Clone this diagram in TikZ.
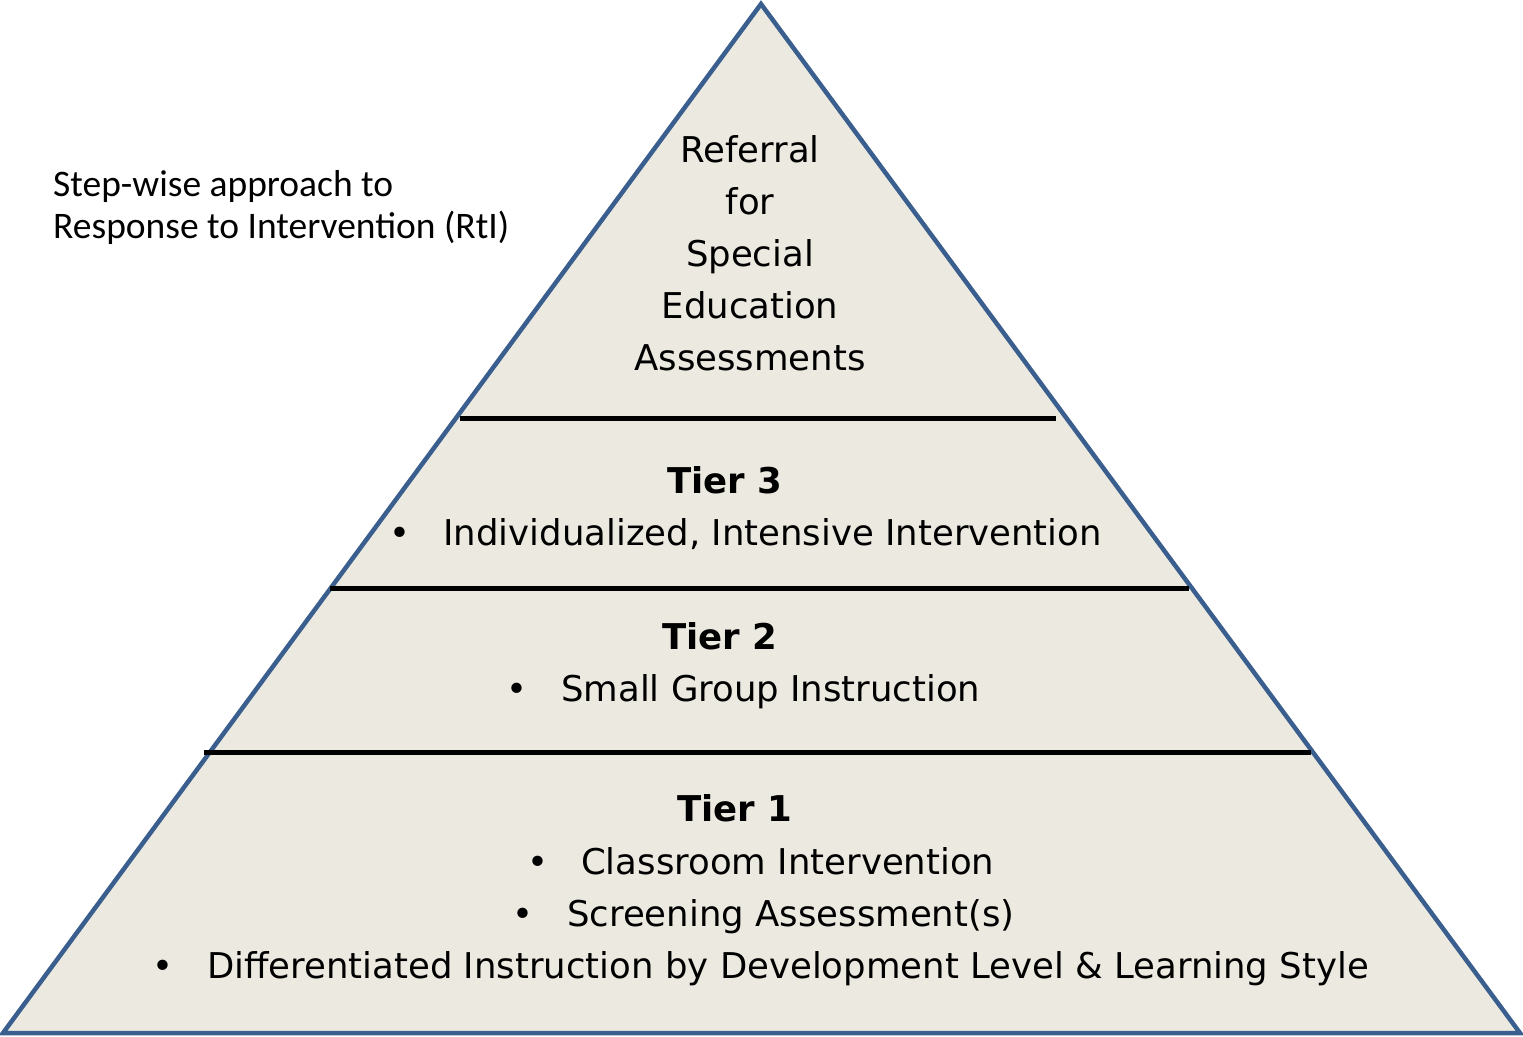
\documentclass[tikz,border=0pt]{standalone}
\usepackage{fontspec}
\setmainfont{DejaVu Sans}
\newfontfamily\titlefont{Carlito}
\definecolor{pyrfill}{HTML}{ECEAE0}
\definecolor{pyredge}{HTML}{3A5F8E}
\tikzset{
  tierline/.style={line width=5pt, black},
  body/.style={font=\fontsize{35.5}{42}\selectfont, inner sep=0pt, anchor=base west},
  head/.style={font=\fontsize{35.5}{42}\selectfont\bfseries, inner sep=0pt, anchor=base},
  bul/.style={font=\fontsize{35.5}{42}\selectfont, inner sep=0pt, anchor=base},
}
\begin{document}
\begin{tikzpicture}[x=1pt,y=-1pt]
\useasboundingbox (0,0) rectangle (1523,1036);
% pyramid
\coordinate (apex) at (761,4);
\coordinate (bl) at (3,1033);
\coordinate (br) at (1520,1033);
\draw[pyredge, fill=pyrfill, line width=4.5pt, line join=miter] (apex) -- (br) -- (bl) -- cycle;
% tier lines
\coordinate (l3a) at (460,418); \coordinate (l3b) at (1056,418);
\coordinate (l2a) at (330,588); \coordinate (l2b) at (1189,588);
\coordinate (l1a) at (204,752); \coordinate (l1b) at (1311,752);
\draw[tierline] (l3a) -- (l3b);
\draw[tierline] (l2a) -- (l2b);
\draw[tierline] (l1a) -- (l1b);
% title
\node[font=\titlefont\fontsize{37.5}{42}\selectfont, align=left, anchor=base west, inner sep=0pt] (title) at (53,238)
  {Step-wise approach to\\Response to Intervention (RtI)};
% top
\node[font=\fontsize{35.5}{52}\selectfont, align=center, anchor=base, inner sep=0pt] (top) at (750,370)
  {Referral\\for\\Special\\Education\\Assessments};
% tier 3
\node[head] (t3) at (725,493) {Tier 3};
\node[bul] (b3) at (400,545) {•};
\node[body] (t3a) at (443,545) {Individualized, Intensive Intervention};
% tier 2
\node[head] (t2) at (720,649) {Tier 2};
\node[bul] (b2) at (517,701) {•};
\node[body] (t2a) at (561,701) {Small Group Instruction};
% tier 1
\node[head] (t1) at (735,821) {Tier 1};
\node[bul] (b1a) at (538,874) {•};
\node[body] (t1a) at (581,874) {Classroom Intervention};
\node[bul] (b1b) at (523,926) {•};
\node[body] (t1b) at (567,926) {Screening Assessment(s)};
\node[bul] (b1c) at (163,978) {•};
\node[body] (t1c) at (207,978) {Differentiated Instruction by Development Level \& Learning Style};
\end{tikzpicture}
\end{document}
